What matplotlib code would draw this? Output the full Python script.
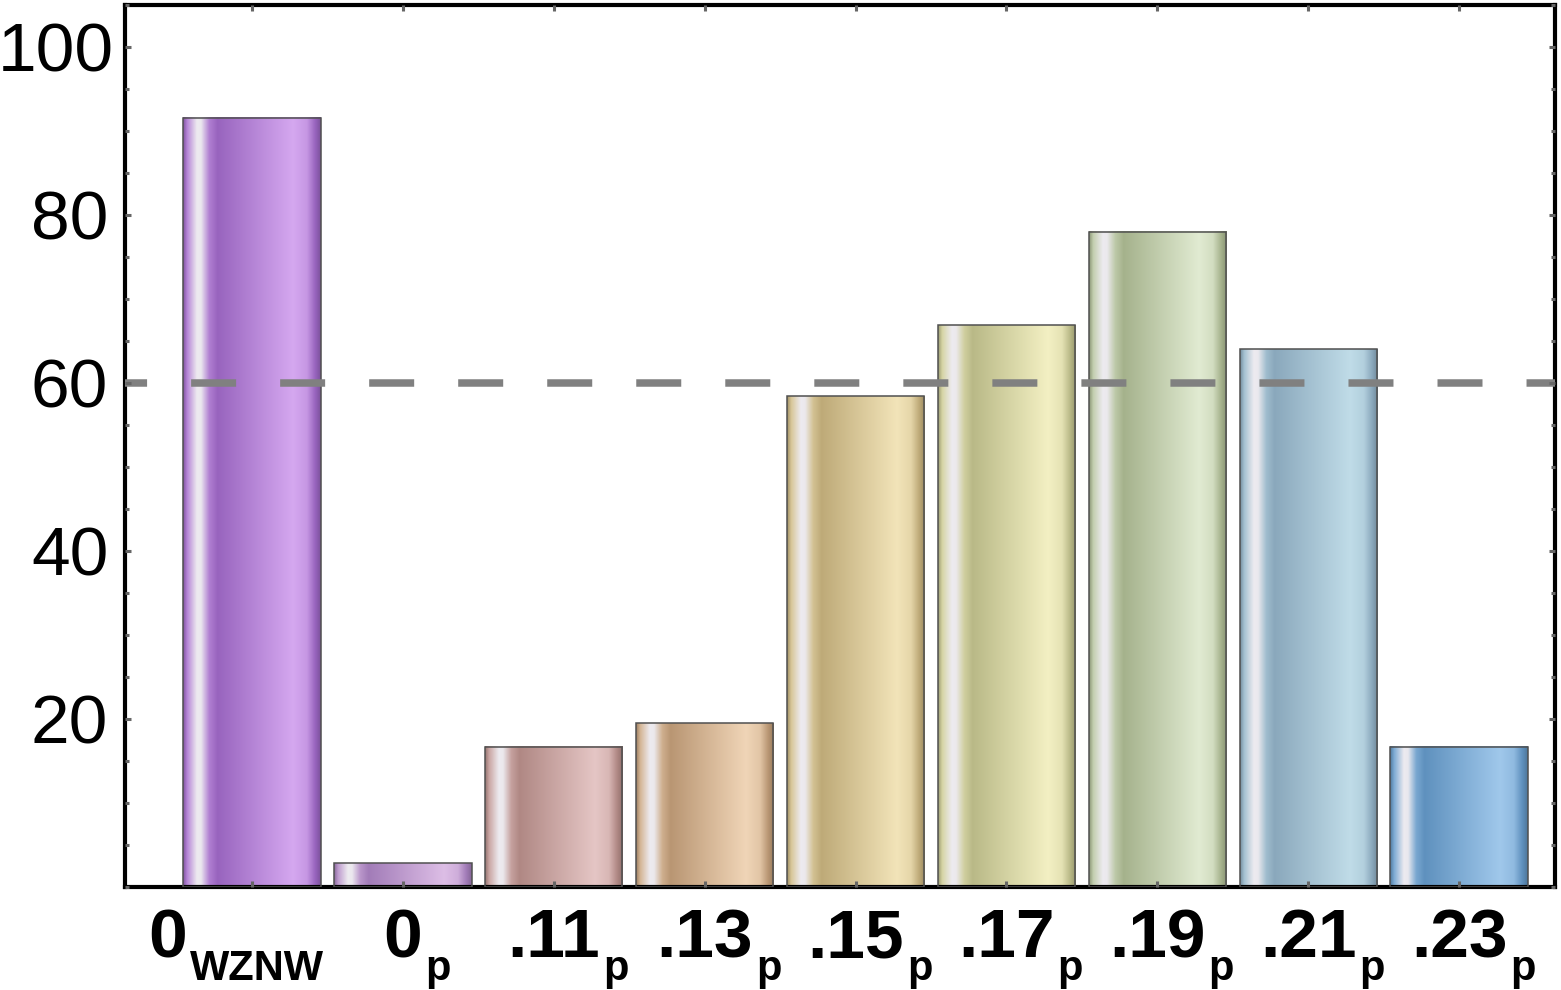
import numpy as np
import matplotlib
matplotlib.use("Agg")
import matplotlib.pyplot as plt
from matplotlib.patches import Rectangle
from matplotlib.colors import to_rgb
from matplotlib.ticker import MultipleLocator
import matplotlib.transforms as mtransforms

plt.rcParams['font.family'] = ['Liberation Sans', 'DejaVu Sans']
plt.rcParams['lines.scale_dashes'] = False

# data
label_main = ['0', '0', '.11', '.13', '.15', '.17', '.19', '.21', '.23']
label_sub = ['WZNW', 'p', 'p', 'p', 'p', 'p', 'p', 'p', 'p']
values = [91.6, 2.8, 16.7, 19.5, 58.4, 66.9, 78.0, 64.0, 16.7]
threshold = 60
y_ticks = [20, 40, 60, 80, 100]

# dark / light tone of each glass bar
dark_cols = ['#9864BE', '#A27CB8', '#B08884', '#B99673', '#BEAA78',
             '#B9B987', '#A5B28C', '#8AA8BC', '#5F91BE']
light_cols = ['#D5A8F0', '#DDBEE6', '#E5C6C5', '#F0D5B7', '#F2E4B9',
              '#F3F0C3', '#E1EBD2', '#C0DCE8', '#A0C8EB']


def glass_row(dark, light, n=300):
    """ horizontal shading of a Mathematica-like glass bar """
    d = np.array(to_rgb(dark))
    l = np.array(to_rgb(light))
    w = np.array([0.93, 0.92, 0.94])
    stops = [0.0, 0.03, 0.10, 0.13, 0.19, 0.25, 0.55, 0.80, 0.90, 0.96, 1.0]
    cols = [d * 0.85, (d + l) / 2, w, w * 0.97 + d * 0.03, d * 0.6 + l * 0.4, d,
            d * 0.45 + l * 0.55, l, l * 0.75 + d * 0.25, d, d * 0.82]
    t = np.linspace(0, 1, n)
    row = np.stack([np.interp(t, stops, [c[k] for c in cols]) for k in range(3)], axis=-1)
    return np.clip(row[None, :, :], 0, 1)


fig = plt.figure(figsize=(15.61, 9.90), dpi=100)
ax = fig.add_axes([125 / 1561, 103 / 990, 1430 / 1561, 882 / 990])

xs = np.arange(1, len(values) + 1)
width = 0.91
for x, v, dc, lc in zip(xs, values, dark_cols, light_cols):
    ax.imshow(glass_row(dc, lc), extent=(x - width / 2, x + width / 2, 0, v),
              aspect='auto', interpolation='bilinear', zorder=2)
    ax.add_patch(Rectangle((x - width / 2, 0), width, v, fill=False,
                           edgecolor='#505050', lw=1.1, zorder=2.6))

ax.axhline(threshold, color='#808080', lw=5.4, ls=(16.5, (32.4, 31.7)), zorder=3)

ax.set_xlim(0.158, 9.636)
ax.set_ylim(0, 105)

for s in ax.spines.values():
    s.set_linewidth(3.0)
    s.set_color('black')

ax.set_xticks(xs)
ax.tick_params(axis='x', which='both', top=True, bottom=True, direction='in',
               labelbottom=False, length=4, width=2.2, color='#666666')
ax.set_yticks(y_ticks)
ax.yaxis.set_minor_locator(MultipleLocator(5))
ax.tick_params(axis='y', which='major', left=True, right=True, direction='in',
               length=4.5, width=2.2, color='#666666', labelsize=50, pad=12)
ax.tick_params(axis='y', which='minor', left=True, right=True, direction='in',
               length=3, width=2.2, color='#666666')
ax.xaxis.set_zorder(3.5)
ax.yaxis.set_zorder(3.5)

# x labels with subscripts, placed by hand
fig.canvas.draw()
renderer = fig.canvas.get_renderer()
base = ax.get_xaxis_transform()
for x, m, s in zip(xs, label_main, label_sub):
    t1 = ax.text(x, 0, m, transform=base + mtransforms.Affine2D().translate(0, -70),
                 ha='center', va='baseline', fontsize=50, fontweight='bold')
    w1 = t1.get_window_extent(renderer).width
    t2 = ax.text(x, 0, s, transform=base + mtransforms.Affine2D().translate(w1 / 2 + 3, -93),
                 ha='left', va='baseline', fontsize=30, fontweight='bold')
    w2 = t2.get_window_extent(renderer).width
    if len(s) > 1:
        shift = -(w2 + 3) / 2 - 16
        t1.set_transform(base + mtransforms.Affine2D().translate(shift, -70))
        t2.set_transform(base + mtransforms.Affine2D().translate(w1 / 2 + 3 + shift, -93))
    t1.set_clip_on(False)
    t2.set_clip_on(False)

# keep the widest y label inside the picture
for lab in ax.get_yticklabels():
    if lab.get_text() == '100':
        lab.set_transform(lab.get_transform() + mtransforms.Affine2D().translate(6, 0))

fig.savefig('out.png', dpi=100)
